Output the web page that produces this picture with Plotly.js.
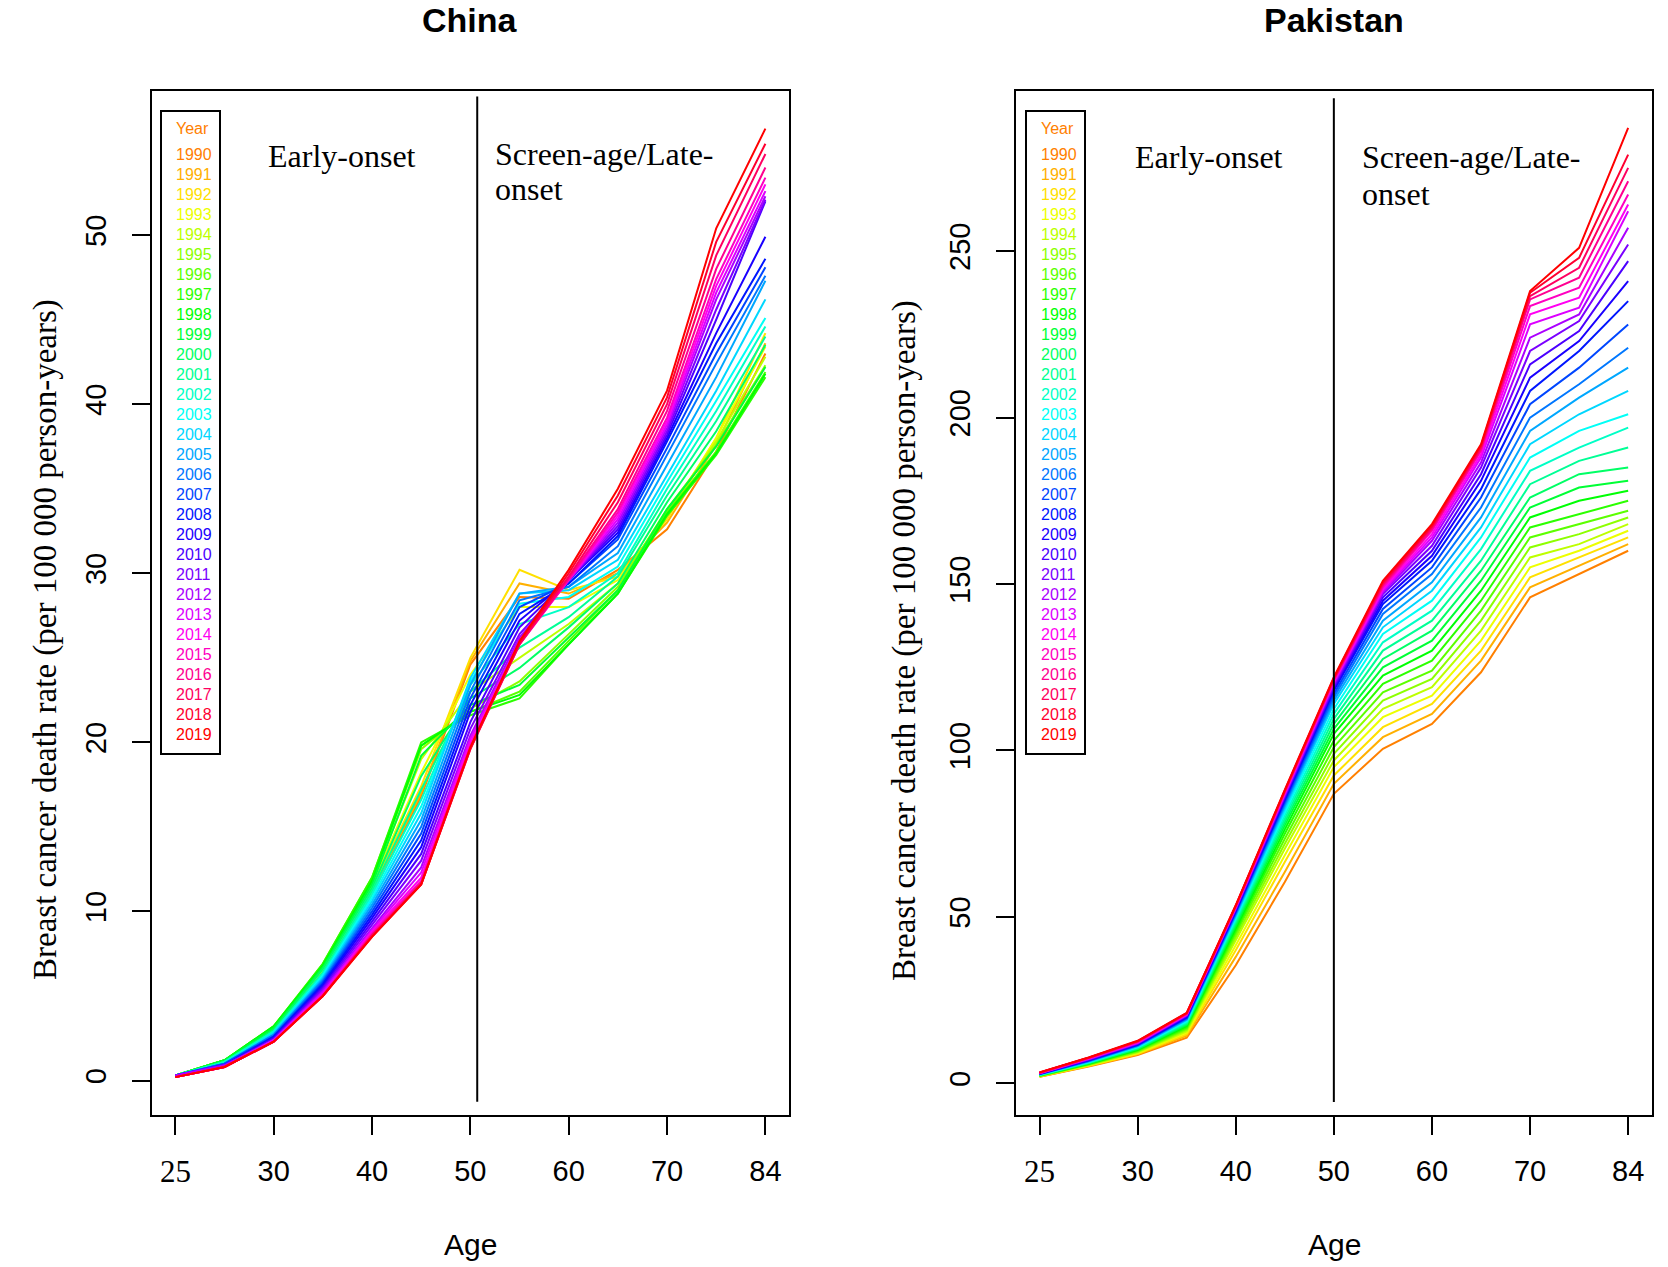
<!DOCTYPE html>
<html><head><meta charset="utf-8">
<script src="https://cdn.plot.ly/plotly-3.0.1.min.js"></script>
<style>html,body{margin:0;padding:0;background:#fff}#chart{width:1668px;height:1267px}</style>
</head><body><div id="chart"></div>
<script>
const years = [1990,1991,1992,1993,1994,1995,1996,1997,1998,1999,2000,2001,2002,2003,2004,2005,2006,2007,2008,2009,2010,2011,2012,2013,2014,2015,2016,2017,2018,2019];
const agePoints = [1,2,3,4,5,6,7,8,9,10,11,12,13];
const xTickPositions = [1,3,5,7,9,11,13];
const xTickLabels = ['25','30','40','50','60','70','84'];
const chinaYTicks = [0,10,20,30,40,50];
const pakistanYTicks = [0,50,100,150,200,250];
const chinaRates = [
 [0.3,1.0,2.7,6.0,11.0,16.8,24.6,28.6,28.5,30.2,32.6,37.2,43.0],
 [0.3,1.0,2.8,6.2,11.2,17.0,24.8,29.4,28.8,30.0,33.0,37.6,43.6],
 [0.3,1.0,2.8,6.3,11.4,17.4,25.0,30.2,29.0,29.8,33.2,38.0,44.2],
 [0.3,1.1,2.9,6.5,11.6,18.2,24.0,28.0,28.0,29.6,33.4,38.0,43.4],
 [0.3,1.1,3.0,6.6,11.8,19.0,23.0,25.0,27.0,29.4,33.6,37.8,42.8],
 [0.3,1.2,3.1,6.8,11.9,19.6,22.0,23.6,26.4,29.2,33.8,37.6,42.3],
 [0.3,1.2,3.2,6.9,12.0,19.8,21.8,23.0,26.0,29.0,33.6,37.2,41.9],
 [0.3,1.2,3.2,6.9,12.0,20.0,21.6,22.6,25.8,28.8,33.4,37.0,41.6],
 [0.3,1.2,3.2,6.8,11.8,19.8,21.8,22.8,25.8,28.8,33.5,37.1,41.8],
 [0.3,1.2,3.1,6.7,11.6,19.2,22.2,23.4,26.2,29.0,33.8,37.5,42.2],
 [0.3,1.1,3.0,6.6,11.4,18.0,22.6,24.4,26.8,29.4,34.2,38.4,43.5],
 [0.3,1.1,2.9,6.4,11.2,17.2,23.0,25.6,27.4,29.8,34.6,39.0,44.0],
 [0.3,1.1,2.9,6.3,11.0,16.6,23.4,27.0,28.0,30.0,35.0,39.6,44.6],
 [0.3,1.0,2.8,6.2,10.8,16.2,23.6,28.2,28.6,30.4,35.4,40.2,45.1],
 [0.3,1.0,2.8,6.1,10.6,15.8,23.8,28.8,29.0,30.8,35.8,40.8,46.2],
 [0.3,1.0,2.7,6.0,10.4,15.4,23.4,28.8,29.2,31.2,36.4,41.6,47.3],
 [0.3,1.0,2.7,5.9,10.2,15.0,23.0,28.4,29.2,31.6,37.0,42.4,47.6],
 [0.3,1.0,2.6,5.8,10.0,14.6,22.6,28.0,29.4,32.0,37.4,43.0,48.1],
 [0.3,0.9,2.6,5.7,9.8,14.2,22.2,27.6,29.4,32.2,37.8,43.6,48.6],
 [0.3,0.9,2.5,5.6,9.6,13.8,21.8,27.2,29.6,32.4,38.0,44.2,49.9],
 [0.3,0.9,2.5,5.5,9.4,13.4,21.2,26.8,29.6,32.6,38.2,45.0,52.0],
 [0.3,0.9,2.4,5.4,9.2,13.0,20.8,26.4,29.6,32.8,38.4,45.6,52.1],
 [0.3,0.9,2.4,5.3,9.0,12.6,20.4,26.2,29.6,33.0,38.6,46.2,52.3],
 [0.2,0.8,2.4,5.2,8.9,12.3,20.2,26.0,29.6,33.2,38.8,46.6,52.6],
 [0.2,0.8,2.3,5.1,8.8,12.0,20.0,25.9,29.6,33.4,39.0,47.0,53.0],
 [0.2,0.8,2.3,5.1,8.7,11.8,19.8,25.8,29.6,33.6,39.2,47.4,53.4],
 [0.2,0.8,2.3,5.0,8.6,11.7,19.7,25.8,29.7,33.8,39.6,48.0,54.0],
 [0.2,0.8,2.3,5.0,8.6,11.6,19.6,25.8,29.8,34.2,40.0,48.8,54.8],
 [0.2,0.8,2.3,5.0,8.5,11.6,19.6,25.9,30.0,34.6,40.4,49.6,55.4],
 [0.2,0.8,2.3,5.0,8.5,11.6,19.7,26.0,30.2,35.0,40.8,50.4,56.3]
];
const pakistanRates = [
 [2.0,5.1,8.5,13.7,35.5,60.5,87.0,100.5,108.0,123.5,146.0,153.0,160.0],
 [2.0,5.2,8.7,14.3,38.0,63.5,90.0,104.0,111.0,127.0,149.0,155.5,162.0],
 [2.1,5.3,8.9,14.8,40.0,66.5,92.5,107.0,114.0,130.0,152.0,158.0,164.0],
 [2.1,5.4,9.1,15.3,41.5,68.5,95.0,110.0,116.5,133.0,155.0,160.0,166.0],
 [2.2,5.5,9.3,15.7,43.0,70.5,97.0,112.5,119.0,136.0,158.0,162.0,168.0],
 [2.2,5.6,9.5,16.1,44.0,72.0,99.0,115.0,121.5,139.0,161.0,165.0,170.0],
 [2.3,5.7,9.7,16.5,45.0,73.5,101.0,117.5,124.0,142.0,164.0,168.0,172.0],
 [2.3,5.8,9.9,16.9,45.8,75.0,103.0,120.0,127.0,145.0,167.0,171.0,175.0],
 [2.4,5.9,10.1,17.2,46.6,76.3,105.0,122.5,130.0,148.0,170.0,175.0,178.0],
 [2.4,6.0,10.3,17.5,47.3,77.5,106.5,125.0,133.0,151.0,173.0,179.0,181.0],
 [2.5,6.1,10.4,17.8,48.0,78.5,108.0,127.5,136.0,154.0,176.0,183.0,185.0],
 [2.5,6.2,10.6,18.1,48.6,79.5,109.5,130.0,139.0,157.0,180.0,187.0,191.0],
 [2.6,6.3,10.8,18.4,49.2,80.5,111.0,132.5,142.0,160.5,184.0,191.0,197.0],
 [2.6,6.4,10.9,18.7,49.7,81.5,112.5,135.0,145.0,164.0,188.0,196.0,201.0],
 [2.7,6.5,11.1,19.0,50.2,82.5,114.0,137.0,148.0,167.0,192.0,201.0,208.0],
 [2.7,6.6,11.2,19.2,50.6,83.3,115.0,139.0,150.5,170.0,196.0,206.0,215.0],
 [2.8,6.7,11.4,19.4,51.0,84.0,116.0,141.0,153.0,173.0,200.0,210.0,221.0],
 [2.8,6.8,11.5,19.6,51.4,84.6,117.0,142.5,155.0,176.0,204.0,215.0,228.0],
 [2.9,6.9,11.6,19.8,51.7,85.2,118.0,144.0,157.0,178.5,208.0,220.0,235.0],
 [2.9,7.0,11.8,20.0,52.0,85.6,118.5,145.0,158.5,181.0,212.0,223.0,241.0],
 [3.0,7.1,11.9,20.2,52.2,86.0,119.0,146.0,160.0,183.0,216.0,226.0,247.0],
 [3.0,7.2,12.0,20.4,52.4,86.4,119.5,147.0,161.5,185.0,220.0,229.0,252.0],
 [3.0,7.3,12.1,20.5,52.6,86.7,120.0,147.5,163.0,186.5,224.0,231.0,257.0],
 [3.1,7.4,12.2,20.6,52.8,87.0,120.4,148.0,164.0,188.0,228.0,233.0,262.0],
 [3.1,7.5,12.3,20.7,53.0,87.2,120.7,148.5,165.0,189.0,231.0,236.0,264.0],
 [3.1,7.5,12.4,20.8,53.1,87.4,121.0,149.0,166.0,190.0,233.5,239.0,267.0],
 [3.2,7.6,12.5,20.9,53.2,87.6,121.2,149.5,166.5,190.5,235.5,242.0,271.0],
 [3.2,7.7,12.6,21.0,53.3,87.8,121.5,150.0,167.0,191.0,236.5,245.0,275.0],
 [3.3,7.7,12.7,21.1,53.4,88.0,121.8,150.5,167.5,191.5,237.5,248.0,279.0],
 [3.3,7.8,12.8,21.2,53.5,88.2,122.0,151.0,168.0,192.0,238.0,251.0,287.0]
];

const W = 1668, H = 1267;
const px = v => v / W;
const py = v => 1 - v / H;
const SANS = 'Liberation Sans, Arial, sans-serif';
const SERIF = 'Liberation Serif, Times New Roman, serif';

function hueColor(h){
  h = ((h % 360) + 360) % 360;
  const x = 1 - Math.abs((h/60) % 2 - 1);
  let r,g,b;
  if(h<60){r=1;g=x;b=0}else if(h<120){r=x;g=1;b=0}else if(h<180){r=0;g=1;b=x}
  else if(h<240){r=0;g=x;b=1}else if(h<300){r=x;g=0;b=1}else{r=1;g=0;b=x}
  const t = v => Math.round(v*255).toString(16).padStart(2,'0');
  return '#'+t(r)+t(g)+t(b);
}
const colors = years.map((y,i) => hueColor(30 + i*330/(years.length-1)));

const traces = [];
function addPanel(rates, xa, ya){
  rates.forEach((row,i) => {
    traces.push({x: agePoints, y: row, xaxis: xa, yaxis: ya, type:'scatter', mode:'lines',
      line:{color: colors[i], width:2}, showlegend:false, hoverinfo:'skip', name: String(years[i])});
  });
}
addPanel(chinaRates, 'x', 'y');
addPanel(pakistanRates, 'x2', 'y2');

// first tick label ("25") is drawn in a serif face in the original, so it is placed as an annotation below
const tickText = xTickLabels.map((t,i) => i===0 ? ' ' : t);
const yDom = [1-1115/H, 1-90.7/H];

function xAxis(dom, anchor){
  return {domain: dom, anchor: anchor, range:[0.52,13.48], tickmode:'array', tickvals:xTickPositions, ticktext:tickText,
    ticks:'outside', ticklen:18, tickwidth:2, tickcolor:'#000', showline:true, mirror:true, linecolor:'#000', linewidth:2,
    showgrid:false, zeroline:false, tickfont:{family:SANS, size:29, color:'#000'}, ticklabelstandoff:11};
}
function yAxis(range, tv, anchor){
  return {domain: yDom, anchor: anchor, range: range, tickmode:'array', tickvals:tv, tickangle:-90,
    ticks:'outside', ticklen:18, tickwidth:2, tickcolor:'#000', showline:true, mirror:true, linecolor:'#000', linewidth:2,
    showgrid:false, zeroline:false, tickfont:{family:SANS, size:29, color:'#000'}, ticklabelstandoff:14};
}

const annotations = [];
const shapes = [];
function ann(text, x, y, opts){
  annotations.push(Object.assign({text:text, x:px(x), y:py(y), xref:'paper', yref:'paper', showarrow:false,
    xanchor:'center', yanchor:'middle'}, opts));
}

const panels = [
  {name:'China', cx:470, yTitleX:45, legL:161, legR:220, textL:173.5, early:266, screen:492.5, screenY:154, onsetY:189, earlyY:156,
   vx:7.14, vy:[-1.25,58.2], xr:'x', yr:'y'},
  {name:'Pakistan', cx:1334, yTitleX:904, legL:1026, legR:1085, textL:1038.5, early:1133, screen:1359.5, screenY:157, onsetY:194, earlyY:157,
   vx:7, vy:[-5.6,295.9], xr:'x2', yr:'y2'}
];
panels.forEach(p => {
  ann('<b>'+p.name+'</b>', p.cx, 20, {font:{family:SANS, size:34, color:'#000'}});
  ann('Age', p.cx, 1244, {font:{family:SANS, size:30, color:'#000'}});
  ann('Breast cancer death rate (per 100 000 person-years)', p.yTitleX, 640, {textangle:-90, font:{family:SERIF, size:33, color:'#000'}});
  ann('Early-onset', p.early, p.earlyY, {xanchor:'left', font:{family:SERIF, size:32, color:'#000'}});
  ann('Screen-age/Late-', p.screen, p.screenY, {xanchor:'left', font:{family:SERIF, size:32, color:'#000'}});
  ann('onset', p.screen, p.onsetY, {xanchor:'left', font:{family:SERIF, size:32, color:'#000'}});
  annotations.push({text: xTickLabels[0], x: xTickPositions[0], xref: p.xr, y: py(1171), yref:'paper', showarrow:false,
    xanchor:'center', yanchor:'middle', font:{family:SERIF, size:31, color:'#000'}});
  shapes.push({type:'rect', xref:'paper', yref:'paper', x0:px(p.legL), x1:px(p.legR), y0:py(754), y1:py(111),
    line:{color:'#000', width:2}, fillcolor:'rgba(0,0,0,0)'});
  shapes.push({type:'line', xref:p.xr, yref:p.yr, x0:p.vx, x1:p.vx, y0:p.vy[0], y1:p.vy[1], line:{color:'#000', width:2}});
  ann('Year', p.textL, 128, {xanchor:'left', font:{family:SANS, size:16, color:colors[0]}});
  years.forEach((yr,i) => {
    ann(String(yr), p.textL, 154.3 + i*20, {xanchor:'left', font:{family:SANS, size:16, color:colors[i]}});
  });
});

const layout = {
  width: W, height: H, margin:{l:0,r:0,t:0,b:0}, paper_bgcolor:'#fff', plot_bgcolor:'#fff', showlegend:false,
  xaxis: xAxis([151.7/W, 789/W], 'y'),
  yaxis: yAxis([-2.04,58.54], chinaYTicks, 'x'),
  xaxis2: xAxis([1016/W, 1651.7/W], 'y2'),
  yaxis2: yAxis([-9.5,298.2], pakistanYTicks, 'x2'),
  annotations: annotations, shapes: shapes
};
Plotly.newPlot('chart', traces, layout, {staticPlot:true, displayModeBar:false});
</script></body></html>
